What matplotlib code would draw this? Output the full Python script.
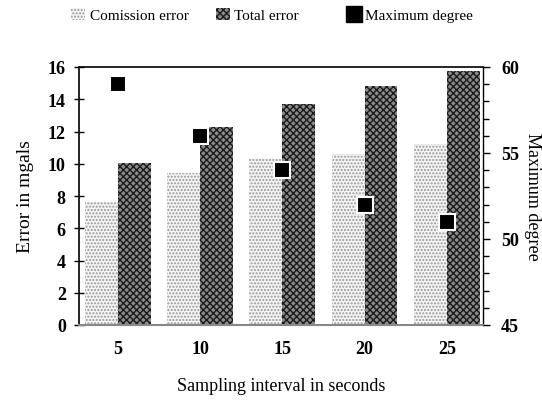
import matplotlib
matplotlib.use("Agg")
import matplotlib.pyplot as plt
import numpy as np
from matplotlib.patches import Patch
from matplotlib.lines import Line2D
from matplotlib.ticker import MultipleLocator

intervals = ["5", "10", "15", "20", "25"]
comission_error = [7.6, 9.4, 10.3, 10.6, 11.2]
total_error = [10.05, 12.3, 13.7, 14.85, 15.75]
maximum_degree = [59, 56, 54, 52, 51]

plt.rcParams['font.family'] = ['Liberation Serif', 'DejaVu Serif']
plt.rcParams['hatch.linewidth'] = 1.0

fig = plt.figure(figsize=(5.42, 4.06), dpi=100)
ax = fig.add_axes([79/542, 1-326/406, (483-79)/542, (326-68)/406])
x = np.arange(len(intervals))
w = 0.4

com_style = dict(facecolor='#f4f4f4', edgecolor='#999999', hatch='.....', linewidth=0)
tot_style = dict(facecolor='#8a8a8a', edgecolor='#1a1a1a', hatch='xxxxx', linewidth=0)

ax.bar(x - w/2, comission_error, width=w, zorder=2, **com_style)
ax.bar(x + w/2, total_error, width=w, zorder=2, **tot_style)

ax.set_xlim(-0.47, 4.44)
ax.set_ylim(0, 16)
ax.set_yticks(range(0, 17, 2))
ax.set_xticks(x)
ax.set_xticklabels(intervals, fontsize=13, fontweight='bold')
ax.tick_params(axis='x', length=0, pad=11)
ax.tick_params(axis='y', direction='inout', length=7, width=1, labelsize=13, pad=6)
for lab in ax.get_yticklabels():
    lab.set_fontweight('bold')
ax.spines['bottom'].set_color('#888888')
ax.spines['bottom'].set_linewidth(1.5)
ax.spines['left'].set_linewidth(1.2)
ax.spines['top'].set_linewidth(1.2)
ax.spines['right'].set_linewidth(1.0)
ax.set_ylabel('Error in mgals', fontsize=14, labelpad=10)
ax.set_xlabel('Sampling interval in seconds', fontsize=13, labelpad=14)

ax2 = ax.twinx()
ax2.set_ylim(45, 60)
ax2.set_yticks([45, 50, 55, 60])
ax2.yaxis.set_minor_locator(MultipleLocator(1))
ax2.tick_params(axis='y', which='major', direction='out', length=5, width=1, labelsize=13, pad=8)
ax2.tick_params(axis='y', which='minor', direction='out', length=4, width=1)
for lab in ax2.get_yticklabels():
    lab.set_fontweight('bold')
ax2.plot(x, maximum_degree, linestyle='none', marker='s', markersize=11,
         markerfacecolor='black', markeredgecolor='white', markeredgewidth=1.5, zorder=5)
ax2.set_ylabel('Maximum degree', fontsize=13, rotation=270, labelpad=16)
for s in ax2.spines.values():
    s.set_visible(False)

handles = [
    Patch(label='Comission error', **com_style),
    Patch(label='Total error', **tot_style),
    Line2D([], [], linestyle='none', marker='s', markersize=11, markerfacecolor='black',
           markeredgecolor='black', label='Maximum degree'),
]
fig.legend(handles=handles[:2], loc='center', bbox_to_anchor=(185/542, 1-16/406), ncol=2,
           frameon=False, fontsize=11, handlelength=0.9, handleheight=0.9,
           handletextpad=0.3, columnspacing=1.8)
fig.legend(handles=handles[2:], loc='center', bbox_to_anchor=(410/542, 1-16/406),
           frameon=False, fontsize=11, handlelength=0.9, handletextpad=0.3)

fig.savefig('out.png', dpi=100)
